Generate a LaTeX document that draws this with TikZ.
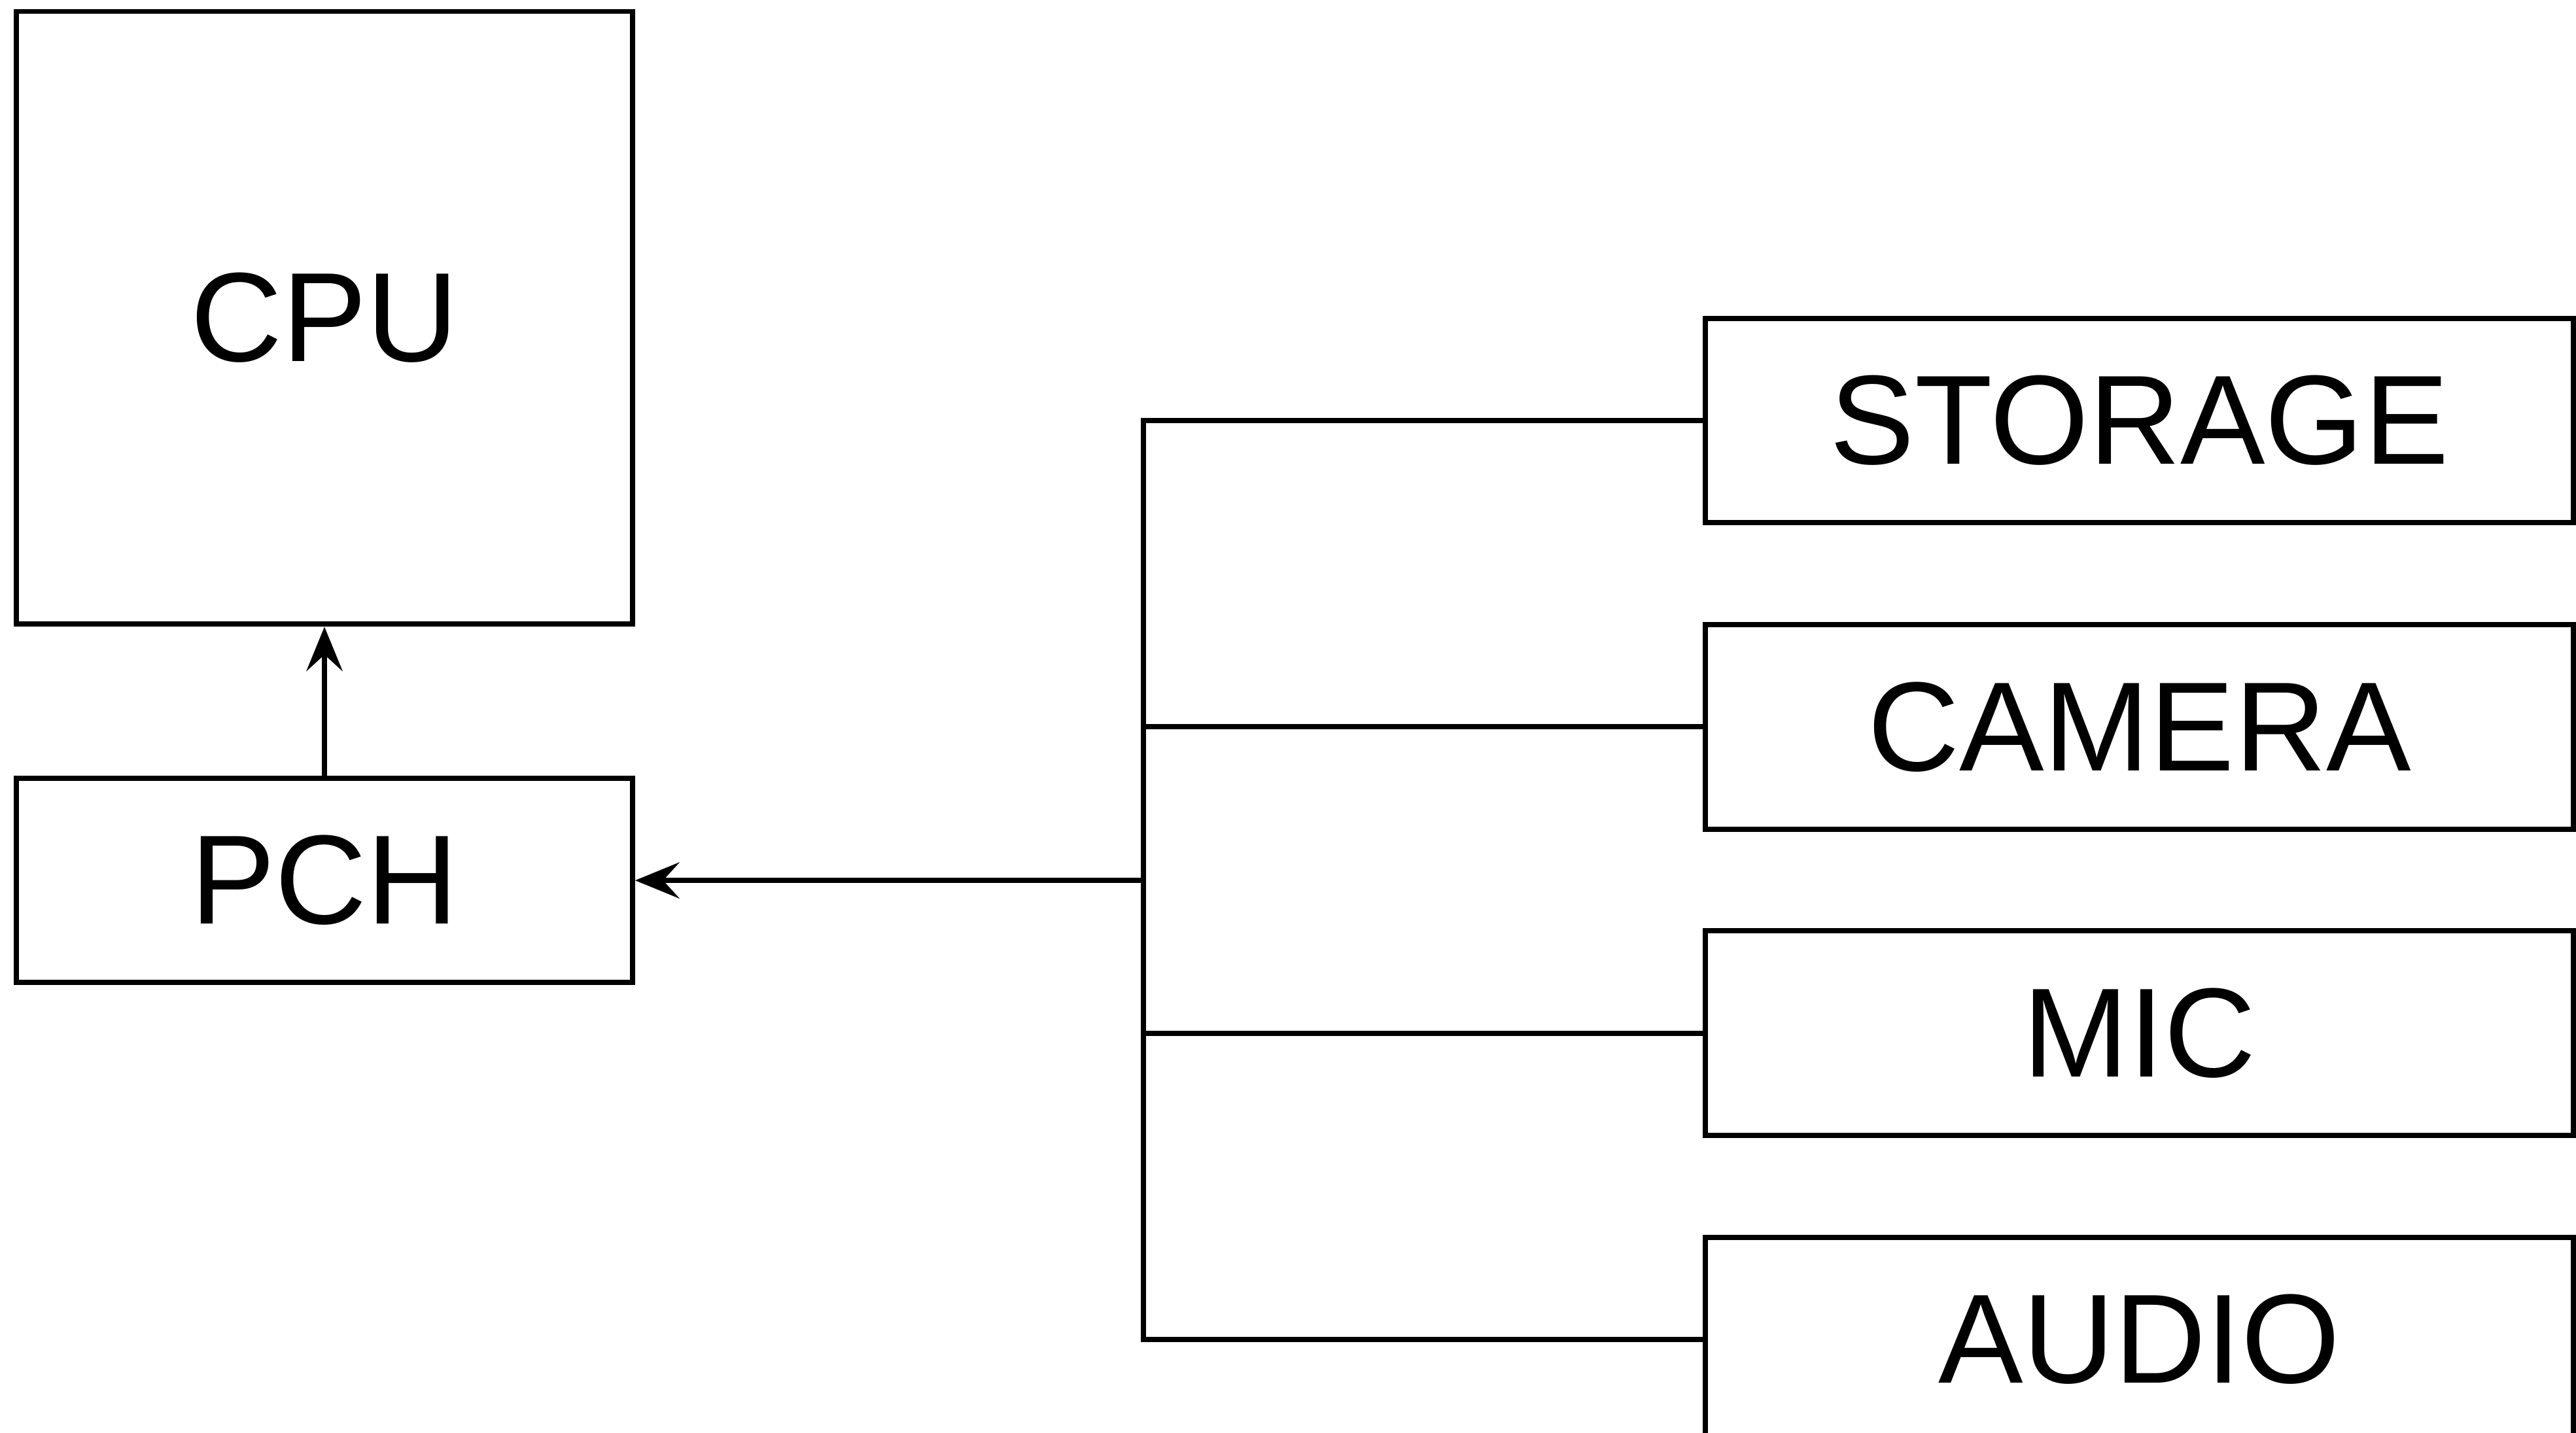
\documentclass[tikz,border=0pt]{standalone}
\usepackage{fontspec}
\setmainfont{Liberation Sans}
\usetikzlibrary{arrows.meta}

\begin{document}
\begin{tikzpicture}[
    blk/.style={draw,line width=0.9pt,inner sep=0pt,font=\fontsize{22}{26}\selectfont,minimum width=3.75cm,minimum height=1.245cm},
    dev/.style={blk,minimum width=5.285cm},
    wire/.style={line width=0.9pt},
    >={Stealth[length=2.7mm,width=2.2mm,inset=1mm]}
  ]
  \useasboundingbox (0,0) rectangle (15.68,8.724);
  \path[clip] (0,0) rectangle (15.68,8.724);

  \node[blk,minimum height=3.73cm] (cpu) at (1.975,6.789) {CPU};
  \node[blk] (pch) at (1.975,3.364) {PCH};

  \node[dev] (storage) at (13.022,6.164) {STORAGE};
  \node[dev] (camera) at (13.022,4.299) {CAMERA};
  \node[dev] (mic) at (13.022,2.434) {MIC};
  \node[dev] (audio) at (13.022,0.569) {AUDIO};

  \coordinate (bus) at (6.96,3.364);

  \draw[wire,->] (pch) -- (cpu);
  \draw[wire,->] (bus) -- (pch);
  \draw[wire] (storage.west) -- (storage.west -| bus) -- (audio.west -| bus) -- (audio.west);
  \foreach \d in {camera,mic}
    \draw[wire] (\d.west) -- (\d.west -| bus);
\end{tikzpicture}
\end{document}
